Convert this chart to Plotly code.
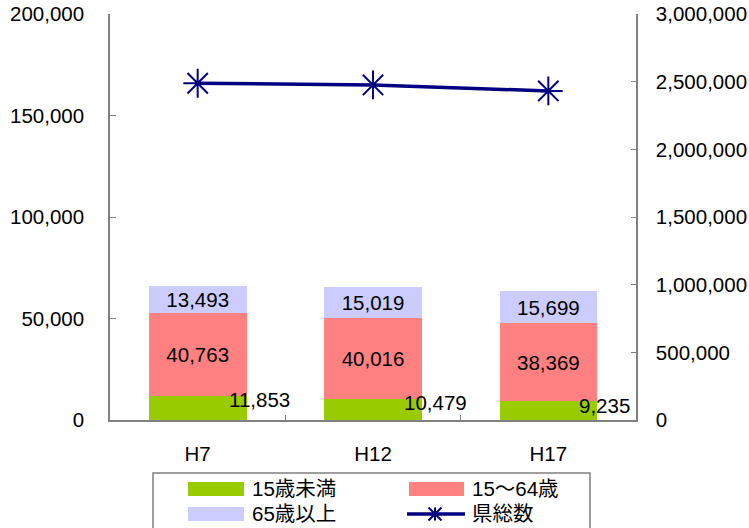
import plotly.graph_objects as go

categories = ["H7", "H12", "H17"]
under15 = [11853, 10479, 9235]
age15_64 = [40763, 40016, 38369]
over65 = [13493, 15019, 15699]
pref_total = [2488364, 2475733, 2431459]

left_ticks = [0, 50000, 100000, 150000, 200000]
right_ticks = [0, 500000, 1000000, 1500000, 2000000, 2500000, 3000000]

legend_names = ["15歳未満", "15～64歳", "65歳以上", "県総数"]

C_GREEN = "#99CC00"
C_RED = "#FF8080"
C_LAV = "#CCCCFF"
C_NAVY = "#000080"
AXIS_GRAY = "#808080"
FONT = "Arial, 'Liberation Sans', 'Noto Sans CJK JP', sans-serif"
FS = 20.5

W, H = 749, 528
L, R, T, B = 110, 636, 14, 420


def px(x):
    return (x - L) / (R - L)


def py(y):
    return (B - y) / (B - T)


fig = go.Figure()
for name, vals, col in [(legend_names[0], under15, C_GREEN),
                        (legend_names[1], age15_64, C_RED),
                        (legend_names[2], over65, C_LAV)]:
    show_text = col != C_GREEN
    fig.add_trace(go.Bar(
        x=categories, y=vals, name=name, marker=dict(color=col, line=dict(width=0)),
        text=[f"{v:,}" for v in vals] if show_text else None,
        textposition="inside" if show_text else "none",
        insidetextanchor="middle", constraintext="none",
        textfont=dict(size=FS, color="black", family=FONT),
        showlegend=False, hoverinfo="skip",
    ))

fig.add_trace(go.Scatter(
    x=categories, y=pref_total, name=legend_names[3], yaxis="y2",
    mode="lines+markers",
    line=dict(color=C_NAVY, width=3.5),
    marker=dict(symbol="asterisk-open", size=24, color=C_NAVY, line=dict(color=C_NAVY, width=2)),
    showlegend=False, hoverinfo="skip",
))

annotations = []
for c, v in zip(categories, under15):
    annotations.append(dict(
        x=c, y=v, xref="x", yref="y", text=f"{v:,}", showarrow=False,
        xshift=29, yshift=-4, font=dict(size=FS, color="black", family=FONT),
        xanchor="left", yanchor="middle",
    ))

shapes = []
# custom legend box
shapes.append(dict(type="rect", xref="paper", yref="paper",
                   x0=px(153), x1=px(590), y0=py(540), y1=py(473),
                   line=dict(color=AXIS_GRAY, width=1.5), fillcolor="white", layer="above"))
items = [
    (188, 244, 489, C_GREEN, 250, legend_names[0]),
    (409, 464, 489, C_RED, 470, legend_names[1]),
    (188, 244, 514, C_LAV, 250, legend_names[2]),
]
for x0, x1, yc, col, tx, label in items:
    shapes.append(dict(type="rect", xref="paper", yref="paper",
                       x0=px(x0), x1=px(x1), y0=py(yc + 7), y1=py(yc - 7),
                       line=dict(width=0), fillcolor=col, layer="above"))
    annotations.append(dict(x=px(tx), y=py(yc), xref="paper", yref="paper", text=label,
                            showarrow=False, xanchor="left", yanchor="middle", yshift=1,
                            font=dict(size=FS, color="black", family=FONT)))
# line legend item
yc = 514
shapes.append(dict(type="line", xref="paper", yref="paper", x0=px(407), x1=px(465),
                   y0=py(yc), y1=py(yc), line=dict(color=C_NAVY, width=3.5), layer="above"))
cx, hs = 435, 6.5
for dx, dy in [(0, hs), (hs, hs), (hs, -hs)]:
    shapes.append(dict(type="line", xref="paper", yref="paper",
                       x0=px(cx - dx), x1=px(cx + dx), y0=py(yc - dy), y1=py(yc + dy),
                       line=dict(color=C_NAVY, width=2), layer="above"))
annotations.append(dict(x=px(470), y=py(yc), xref="paper", yref="paper", text=legend_names[3],
                        showarrow=False, xanchor="left", yanchor="middle", yshift=1,
                        font=dict(size=FS, color="black", family=FONT)))

fig.update_layout(
    width=W, height=H,
    margin=dict(l=L, r=W - R, t=T, b=H - B, pad=0, autoexpand=False),
    paper_bgcolor="white", plot_bgcolor="white",
    barmode="stack", bargap=0.443,
    font=dict(family=FONT, size=FS, color="black"),
    showlegend=False,
    xaxis=dict(type="category", showline=True, linecolor=AXIS_GRAY, linewidth=1.5,
               ticks="inside", tickson="boundaries", ticklen=5, tickcolor=AXIS_GRAY,
               showgrid=False, ticklabelstandoff=15, automargin=False,
               tickfont=dict(size=FS, family=FONT, color="black")),
    yaxis=dict(range=[0, 200000], tickvals=left_ticks,
               ticktext=[f"{v:,}" for v in left_ticks],
               showline=True, linecolor=AXIS_GRAY, linewidth=1.5,
               ticks="inside", ticklen=6, tickcolor=AXIS_GRAY, showgrid=False,
               zeroline=False, ticklabelstandoff=20, automargin=False,
               tickfont=dict(size=FS, family=FONT, color="black")),
    yaxis2=dict(range=[0, 3000000], tickvals=right_ticks,
                ticktext=[f"{v:,}" for v in right_ticks],
                overlaying="y", side="right",
                showline=True, linecolor=AXIS_GRAY, linewidth=1.5,
                ticks="inside", ticklen=5, tickcolor=AXIS_GRAY, showgrid=False,
                zeroline=False, ticklabelstandoff=14, automargin=False,
                tickfont=dict(size=FS, family=FONT, color="black")),
    shapes=shapes,
    annotations=annotations,
)

fig.write_html("out.html", config={"displayModeBar": False},
               post_script="document.body.style.margin='0';document.body.style.overflow='hidden';")
